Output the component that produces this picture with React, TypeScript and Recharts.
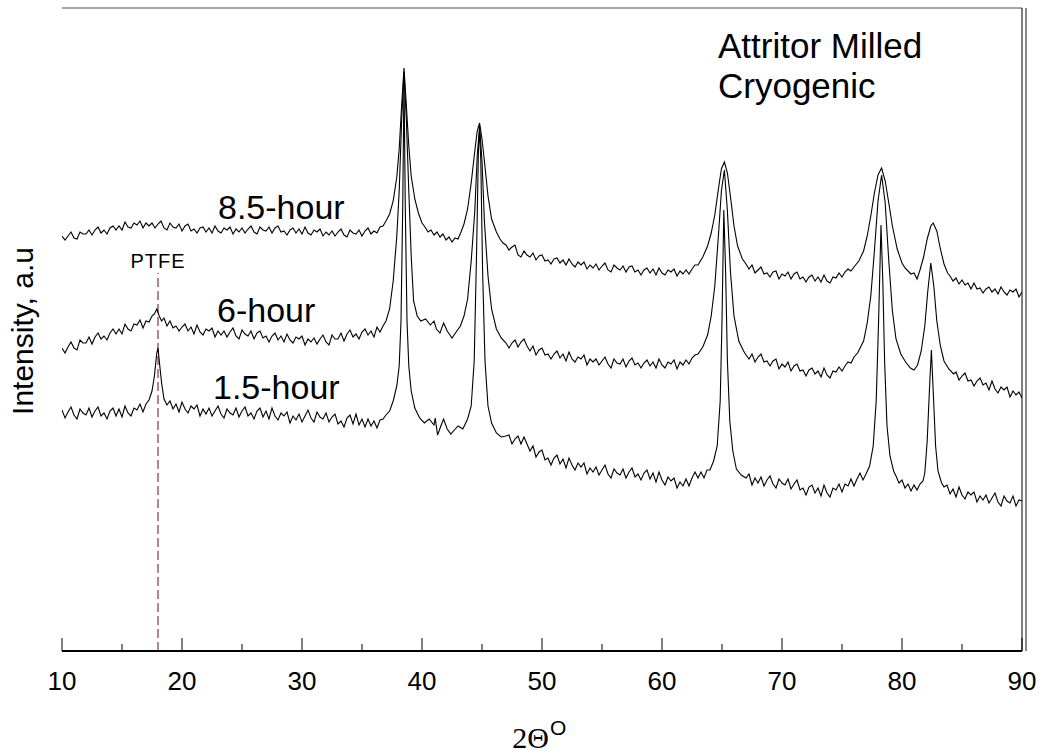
import React from "react";
import { LineChart, Line, XAxis, YAxis, ReferenceLine } from "recharts";

// XRD patterns, stacked, intensity in arbitrary units
const TICKS = [10, 15, 20, 25, 30, 35, 40, 45, 50, 55, 60, 65, 70, 75, 80, 85, 90];
const Y_MAX = 643;
const PTFE_POS = 18;
const PTFE_TOP = 378;

const HOUR_85: [number, number][] = [
  [10, 415], [10.25, 411], [10.5, 415], [10.75, 419], [11, 413], [11.25, 412], [11.5, 419], [11.75, 417],
  [12, 417], [12.25, 421], [12.5, 416], [12.75, 421], [13, 424], [13.25, 418], [13.5, 421], [13.75, 417],
  [14, 423], [14.25, 425], [14.5, 421], [14.75, 425], [15, 421], [15.25, 429], [15.5, 424], [15.75, 423],
  [16, 428], [16.25, 426], [16.5, 430], [16.75, 423], [17, 428], [17.25, 425], [17.5, 428], [17.75, 423],
  [18, 427], [18.25, 430], [18.5, 423], [18.75, 421], [19, 428], [19.25, 424], [19.5, 423], [19.75, 427],
  [20, 420], [20.25, 425], [20.5, 427], [20.75, 420], [21, 422], [21.25, 418], [21.5, 423], [21.75, 424],
  [22, 419], [22.25, 423], [22.5, 418], [22.75, 425], [23, 420], [23.25, 418], [23.5, 423], [23.75, 421],
  [24, 424], [24.25, 417], [24.5, 422], [24.75, 419], [25, 423], [25.25, 418], [25.5, 422], [25.75, 425],
  [26, 419], [26.25, 417], [26.5, 424], [26.75, 421], [27, 420], [27.25, 424], [27.5, 418], [27.75, 423],
  [28, 425], [28.25, 419], [28.5, 420], [28.75, 416], [29, 421], [29.25, 423], [29.5, 418], [29.75, 422],
  [30, 417], [30.25, 424], [30.5, 418], [30.75, 416], [31, 421], [31.25, 419], [31.5, 422], [31.75, 415],
  [32, 419], [32.25, 416], [32.5, 420], [32.75, 415], [33, 419], [33.25, 422], [33.5, 416], [33.75, 414],
  [34, 421], [34.25, 418], [34.5, 417], [34.75, 421], [35, 415], [35.25, 420], [35.5, 423], [35.75, 417],
  [36, 420], [36.25, 418], [36.5, 424], [36.75, 425], [37.0, 430], [37.3, 437],
  [37.6, 450], [37.9, 474], [38.1, 502], [38.3, 545], [38.5, 583], [38.7, 545], [38.9, 505],
  [39.1, 475], [39.4, 452], [39.7, 438], [40.0, 428], [40.25, 424], [40.5, 419], [40.75, 421],
  [41, 416], [41.25, 419], [41.5, 414], [41.75, 417], [42, 411], [42.25, 414], [42.5, 409],
  [42.75, 413], [43, 412], [43.25, 419], [43.5, 427], [43.8, 442],
  [44.1, 468], [44.4, 500], [44.6, 520], [44.8, 528], [45.0, 512], [45.2, 490], [45.5, 455],
  [45.8, 432], [46.2, 419], [46.5, 412], [46.75, 408], [47, 406], [47.25, 401], [47.5, 404], [47.75, 406],
  [48, 396], [48.25, 394], [48.5, 400], [48.75, 396], [49, 394], [49.25, 398], [49.5, 391], [49.75, 395],
  [50, 396], [50.25, 390], [50.5, 391], [50.75, 387], [51, 392], [51.25, 393], [51.5, 388], [51.75, 391],
  [52, 386], [52.25, 392], [52.5, 387], [52.75, 384], [53, 389], [53.25, 386], [53.5, 389], [53.75, 382],
  [54, 386], [54.25, 383], [54.5, 387], [54.75, 381], [55, 385], [55.25, 388], [55.5, 381], [55.75, 379],
  [56, 386], [56.25, 383], [56.5, 381], [56.75, 385], [57, 379], [57.25, 384], [57.5, 385], [57.75, 379],
  [58, 381], [58.25, 376], [58.5, 381], [58.75, 383], [59, 378], [59.25, 382], [59.5, 376], [59.75, 383],
  [60, 378], [60.25, 376], [60.5, 381], [60.75, 379], [61, 382], [61.25, 375], [61.5, 380], [61.75, 377],
  [62, 381], [62.25, 377], [62.5, 382], [62.75, 386], [63, 386], [63.4, 394], [63.8, 405], [64.1, 418],
  [64.4, 436], [64.7, 462], [64.95, 482], [65.2, 489], [65.45, 478], [65.7, 455], [66.0, 425],
  [66.3, 405], [66.7, 392], [67.0, 387], [67.25, 382], [67.5, 386], [67.75, 378], [68, 381], [68.25, 384],
  [68.5, 377], [68.75, 378], [69, 374], [69.25, 379], [69.5, 380], [69.75, 372], [70, 377], [70.25, 375],
  [70.5, 379], [70.75, 372], [71, 377], [71.25, 379], [71.5, 372], [71.75, 374], [72, 369], [72.25, 374],
  [72.5, 376], [72.75, 370], [73, 374], [73.25, 369], [73.5, 376], [73.75, 370], [74, 368], [74.25, 374],
  [74.5, 373], [74.75, 378], [75, 374], [75.25, 379], [75.5, 382], [75.75, 380], [76, 384], [76.4, 390],
  [76.8, 400], [77.1, 415], [77.4, 435], [77.7, 458], [78.0, 476], [78.3, 483], [78.6, 470],
  [78.9, 448], [79.2, 425], [79.6, 402], [80.0, 388], [80.25, 383], [80.5, 380], [80.75, 377],
  [81.0, 378], [81.25, 372], [81.5, 381], [81.8, 394], [82.1, 412], [82.4, 425], [82.6, 428],
  [82.9, 420], [83.2, 402], [83.5, 387], [83.8, 378], [84.0, 375], [84.25, 370], [84.5, 373],
  [84.75, 367], [85, 371], [85.25, 366], [85.5, 368], [85.75, 362], [86, 368], [86.25, 362], [86.5, 363],
  [86.75, 358], [87, 362], [87.25, 364], [87.5, 359], [87.75, 362], [88, 357], [88.25, 364], [88.5, 359],
  [88.75, 356], [89, 361], [89.25, 359], [89.5, 362], [89.75, 354], [90, 359],
];

const HOUR_6: [number, number][] = [
  [10, 303], [10.25, 298], [10.5, 304], [10.75, 309], [11, 303], [11.25, 301], [11.5, 311], [11.75, 308],
  [12, 308], [12.25, 314], [12.5, 307], [12.75, 314], [13, 318], [13.25, 312], [13.5, 315], [13.75, 311],
  [14, 318], [14.25, 322], [14.5, 317], [14.75, 322], [15, 317], [15.25, 327], [15.5, 322], [15.75, 320],
  [16, 327], [16.25, 326], [16.5, 331], [16.75, 323], [17, 330], [17.25, 329], [17.5, 335], [17.7, 337],
  [17.9, 342], [18.1, 335], [18.3, 330], [18.5, 333], [18.75, 325], [19, 330], [19.25, 323], [19.5, 325],
  [19.75, 320], [20, 324], [20.25, 327], [20.5, 320], [20.75, 324], [21, 317], [21.25, 326], [21.5, 319],
  [21.75, 316], [22, 322], [22.25, 320], [22.5, 323], [22.75, 314], [23, 320], [23.25, 316], [23.5, 320],
  [23.75, 314], [24, 319], [24.25, 323], [24.5, 315], [24.75, 312], [25, 321], [25.25, 317], [25.5, 315],
  [25.75, 320], [26, 312], [26.25, 318], [26.5, 320], [26.75, 313], [27, 315], [27.25, 309], [27.5, 315],
  [27.75, 318], [28, 311], [28.25, 315], [28.5, 309], [28.75, 317], [29, 311], [29.25, 308], [29.5, 314],
  [29.75, 312], [30, 315], [30.25, 306], [30.5, 312], [30.75, 309], [31, 313], [31.25, 307], [31.5, 312],
  [31.75, 316], [32, 309], [32.25, 306], [32.5, 316], [32.75, 312], [33, 312], [33.25, 318], [33.5, 310],
  [33.75, 317], [34, 321], [34.25, 314], [34.5, 317], [34.75, 312], [35, 319], [35.25, 322], [35.5, 316],
  [35.75, 320], [36, 314], [36.25, 324], [36.5, 319], [36.75, 325], [37.0, 330], [37.3, 342],
  [37.6, 370], [37.9, 415], [38.1, 460], [38.3, 530], [38.5, 579], [38.7, 530], [38.9, 460],
  [39.1, 395], [39.3, 350], [39.6, 335], [39.9, 330], [40.3, 332], [40.7, 326], [41.0, 330],
  [41.2, 322], [41.5, 318], [41.8, 328], [42.1, 320], [42.5, 313], [42.9, 320], [43.2, 325],
  [43.5, 335], [43.8, 352], [44.1, 390], [44.4, 440], [44.6, 495], [44.8, 525], [45.0, 490],
  [45.2, 430], [45.5, 375], [45.8, 342], [46.2, 322], [46.6, 313], [47.0, 308], [47.25, 303],
  [47.5, 308], [47.75, 311], [48, 304], [48.25, 309], [48.5, 312], [48.75, 305], [49, 300], [49.25, 305],
  [49.5, 296], [49.75, 301], [50, 303], [50.25, 296], [50.5, 297], [50.75, 292], [51, 297], [51.25, 300],
  [51.5, 293], [51.75, 297], [52, 290], [52.25, 299], [52.5, 292], [52.75, 289], [53, 294], [53.25, 292],
  [53.5, 296], [53.75, 286], [54, 292], [54.25, 289], [54.5, 292], [54.75, 286], [55, 290], [55.25, 294],
  [55.5, 287], [55.75, 283], [56, 292], [56.25, 288], [56.5, 287], [56.75, 292], [57, 284], [57.25, 290],
  [57.5, 293], [57.75, 286], [58, 288], [58.25, 283], [58.5, 288], [58.75, 291], [59, 285], [59.25, 289],
  [59.5, 283], [59.75, 292], [60, 286], [60.25, 283], [60.5, 289], [60.75, 287], [61, 291], [61.25, 282],
  [61.5, 289], [61.75, 286], [62, 291], [62.25, 287], [62.5, 293], [62.75, 296], [63, 297], [63.4, 304],
  [63.8, 316], [64.1, 335], [64.4, 365], [64.7, 415], [64.95, 460], [65.2, 481], [65.45, 440],
  [65.7, 380], [66.0, 335], [66.4, 310], [66.8, 300], [67.0, 296], [67.25, 292], [67.5, 297],
  [67.75, 289], [68, 294], [68.25, 297], [68.5, 289], [68.75, 290], [69, 285], [69.25, 290], [69.5, 292],
  [69.75, 282], [70, 287], [70.25, 284], [70.5, 289], [70.75, 280], [71, 285], [71.25, 287], [71.5, 280],
  [71.75, 281], [72, 275], [72.25, 281], [72.5, 283], [72.75, 277], [73, 280], [73.25, 274], [73.5, 283],
  [73.75, 276], [74, 273], [74.25, 280], [74.5, 279], [74.75, 284], [75, 280], [75.25, 285], [75.5, 289],
  [75.75, 288], [76, 294], [76.3, 298], [76.8, 310], [77.1, 328], [77.4, 355], [77.7, 400],
  [78.0, 450], [78.3, 476], [78.6, 448], [78.9, 390], [79.2, 340], [79.5, 312], [79.9, 297],
  [80.3, 289], [80.7, 283], [81.0, 281], [81.3, 286], [81.6, 300], [81.9, 325], [82.15, 360],
  [82.4, 388], [82.65, 365], [82.9, 330], [83.2, 305], [83.5, 290], [83.9, 282], [84.3, 277],
  [84.5, 279], [84.75, 271], [85, 275], [85.25, 278], [85.5, 270], [85.75, 271], [86, 265], [86.25, 270],
  [86.5, 273], [86.75, 266], [87, 268], [87.25, 261], [87.5, 270], [87.75, 262], [88, 258], [88.25, 264],
  [88.5, 261], [88.75, 264], [89, 254], [89.25, 260], [89.5, 256], [89.75, 259], [90, 253],
];

const HOUR_15: [number, number][] = [
  [10, 241], [10.25, 233], [10.5, 239], [10.75, 244], [11, 236], [11.25, 232], [11.5, 242], [11.75, 238],
  [12, 236], [12.25, 243], [12.5, 234], [12.75, 240], [13, 244], [13.25, 235], [13.5, 238], [13.75, 232],
  [14, 240], [14.25, 243], [14.5, 235], [14.75, 242], [15, 234], [15.25, 245], [15.5, 238], [15.75, 235],
  [16, 243], [16.25, 241], [16.5, 247], [16.75, 239], [17, 247], [17.25, 251], [17.5, 260], [17.7, 275],
  [17.9, 298], [18.0, 303], [18.15, 285], [18.3, 268], [18.5, 252], [18.75, 246], [19, 250], [19.25, 242],
  [19.5, 247], [19.75, 239], [20, 249], [20.25, 242], [20.5, 238], [20.75, 245], [21, 242], [21.25, 246],
  [21.5, 235], [21.75, 242], [22, 237], [22.25, 243], [22.5, 235], [22.75, 240], [23, 245], [23.25, 237],
  [23.5, 233], [23.75, 242], [24, 238], [24.25, 236], [24.5, 243], [24.75, 234], [25, 240], [25.25, 244],
  [25.5, 235], [25.75, 238], [26, 232], [26.25, 240], [26.5, 243], [26.75, 234], [27, 240], [27.25, 232],
  [27.5, 243], [27.75, 235], [28, 231], [28.25, 238], [28.5, 235], [28.75, 239], [29, 228], [29.25, 235],
  [29.5, 231], [29.75, 237], [30, 229], [30.25, 235], [30.5, 241], [30.75, 233], [31, 229], [31.25, 239],
  [31.5, 234], [31.75, 232], [32, 238], [32.25, 229], [32.5, 234], [32.75, 237], [33, 227], [33.25, 230],
  [33.5, 224], [33.75, 233], [34, 236], [34.25, 227], [34.5, 237], [34.75, 226], [35, 232], [35.25, 224],
  [35.5, 232], [35.75, 225], [36, 230], [36.25, 223], [36.5, 231], [36.75, 232], [37.0, 236],
  [37.3, 240], [37.6, 250], [37.9, 265], [38.1, 285], [38.25, 330], [38.4, 450], [38.5, 573],
  [38.6, 450], [38.75, 330], [38.9, 285], [39.1, 260], [39.4, 243], [39.8, 233], [40.2, 228],
  [40.6, 232], [41.0, 226], [41.1, 233], [41.3, 216], [41.6, 226], [41.8, 232], [42.1, 222],
  [42.4, 217], [42.7, 221], [43.0, 225], [43.4, 222], [43.8, 232], [44.1, 245], [44.35, 290],
  [44.55, 400], [44.7, 500], [44.8, 521], [44.9, 490], [45.05, 380], [45.25, 290], [45.5, 245],
  [45.8, 228], [46.2, 218], [46.6, 214], [47, 215], [47.25, 216], [47.5, 207], [47.75, 212], [48, 215],
  [48.25, 207], [48.5, 214], [48.75, 207], [49, 200], [49.25, 205], [49.5, 194], [49.75, 199], [50, 201],
  [50.25, 191], [50.5, 193], [50.75, 186], [51, 193], [51.25, 196], [51.5, 187], [51.75, 192], [52, 183],
  [52.25, 193], [52.5, 186], [52.75, 181], [53, 188], [53.25, 184], [53.5, 188], [53.75, 177], [54, 183],
  [54.25, 179], [54.5, 184], [54.75, 176], [55, 181], [55.25, 186], [55.5, 177], [55.75, 173], [56, 182],
  [56.25, 178], [56.5, 176], [56.75, 182], [57, 173], [57.25, 179], [57.5, 183], [57.75, 174], [58, 177],
  [58.25, 171], [58.5, 178], [58.75, 181], [59, 172], [59.25, 178], [59.5, 169], [59.75, 179], [60, 171],
  [60.25, 166], [60.5, 174], [60.75, 170], [61, 173], [61.25, 163], [61.5, 169], [61.75, 165], [62, 172],
  [62.25, 165], [62.5, 173], [62.75, 179], [63, 173], [63.25, 179], [63.5, 173], [63.75, 181], [64, 181],
  [64.3, 190], [64.6, 205], [64.85, 250], [65.0, 330], [65.15, 441], [65.3, 380], [65.45, 290],
  [65.65, 230], [65.9, 200], [66.2, 182], [66.6, 176], [67, 173], [67.25, 177], [67.5, 166],
  [67.75, 173], [68, 168], [68.25, 174], [68.5, 165], [68.75, 171], [69, 175], [69.25, 167], [69.5, 163],
  [69.75, 172], [70, 168], [70.25, 166], [70.5, 172], [70.75, 162], [71, 167], [71.25, 171], [71.5, 161],
  [71.75, 163], [72, 156], [72.25, 164], [72.5, 166], [72.75, 158], [73, 163], [73.25, 155], [73.5, 166],
  [73.75, 158], [74, 154], [74.25, 163], [74.5, 161], [74.75, 167], [75, 159], [75.25, 167], [75.5, 165],
  [75.75, 172], [76, 165], [76.25, 172], [76.5, 178], [76.75, 171], [77, 177], [77.3, 185],
  [77.6, 205], [77.85, 250], [78.05, 330], [78.25, 426], [78.4, 370], [78.55, 290], [78.75, 225],
  [79.0, 195], [79.3, 180], [79.5, 175], [79.75, 168], [80, 171], [80.25, 163], [80.5, 167],
  [80.75, 160], [81, 166], [81.25, 161], [81.5, 167], [81.75, 170], [81.9, 178], [82.1, 210],
  [82.3, 265], [82.45, 301], [82.6, 260], [82.8, 205], [83.0, 180], [83.3, 168], [83.5, 164],
  [83.75, 166], [84, 157], [84.25, 162], [84.5, 154], [84.75, 164], [85, 156], [85.25, 152], [85.5, 159],
  [85.75, 156], [86, 159], [86.25, 149], [86.5, 155], [86.75, 151], [87, 156], [87.25, 148], [87.5, 153],
  [87.75, 158], [88, 149], [88.25, 145], [88.5, 155], [88.75, 150], [89, 148], [89.25, 155], [89.5, 145],
  [89.75, 151], [90, 150],
];

const SERIES = [
  { name: "8.5-hour", points: HOUR_85 },
  { name: "6-hour", points: HOUR_6 },
  { name: "1.5-hour", points: HOUR_15 },
];

const SANS = "'Liberation Sans', Arial, sans-serif";
const BOTTOM = 651;

function XTick(props: any) {
  const { x, y, payload } = props;
  const major = payload.value % 10 === 0;
  return (
    <g>
      <line x1={x} x2={x} y1={y} y2={y - (major ? 13 : 7)} stroke="#000" strokeWidth={1} />
      {major && (
        <text x={x} y={y + 39} textAnchor="middle" fontSize={26} fontFamily={SANS} fill="#000">
          {payload.value}
        </text>
      )}
    </g>
  );
}

export default function App() {
  return (
    <div style={{ position: "absolute", left: 0, top: 0, width: 1042, height: 753, background: "#fff" }}>
      <LineChart width={1042} height={753} margin={{ top: 8, right: 20, bottom: 62, left: 62 }}>
        <XAxis
          type="number"
          dataKey="0"
          domain={[10, 90]}
          ticks={TICKS}
          interval={0}
          height={40}
          tickSize={0}
          tickMargin={0}
          tick={<XTick />}
          axisLine={{ stroke: "#000", strokeWidth: 1.8 }}
          allowDataOverflow
        />
        <YAxis
          type="number"
          dataKey="1"
          domain={[0, Y_MAX]}
          width={0}
          tick={false}
          tickLine={false}
          axisLine={{ stroke: "#000", strokeWidth: 1.8 }}
          allowDataOverflow
        />
        <ReferenceLine y={Y_MAX} stroke="#888" strokeWidth={1.5} />
        <ReferenceLine x={90} stroke="#000" strokeWidth={1} />
        <ReferenceLine
          segment={[{ x: PTFE_POS, y: 0 }, { x: PTFE_POS, y: PTFE_TOP }]}
          stroke="#8a4848"
          strokeWidth={1.3}
          strokeDasharray="9 4"
        />
        {SERIES.map((s) => (
          <Line
            key={s.name}
            data={s.points}
            dataKey="1"
            type="linear"
            stroke="#000"
            strokeWidth={1.1}
            dot={false}
            activeDot={false}
            isAnimationActive={false}
          />
        ))}
      </LineChart>
      <svg
        width={1042}
        height={753}
        style={{ position: "absolute", left: 0, top: 0, pointerEvents: "none" }}
      >
        <line x1={1026} x2={1026} y1={8} y2={BOTTOM} stroke="#888" strokeWidth={2} />
        <g fontFamily={SANS} fill="#000">
          <text x={718} y={58} fontSize={35}>Attritor Milled</text>
          <text x={718} y={98} fontSize={35}>Cryogenic</text>
          <text x={218} y={219} fontSize={34}>8.5-hour</text>
          <text x={217} y={322} fontSize={34}>6-hour</text>
          <text x={213} y={399} fontSize={34}>1.5-hour</text>
          <text x={158} y={268} fontSize={20} textAnchor="middle" letterSpacing={1}>PTFE</text>
          <text x={33} y={331} fontSize={30} textAnchor="middle" transform="rotate(-90 33 331)">
            Intensity, a.u
          </text>
          <text x={550} y={735} fontSize={21}>O</text>
        </g>
        <text x={549} y={748} fontSize={30} textAnchor="end" fontFamily="'Liberation Serif', 'Times New Roman', serif">
          2Θ
        </text>
      </svg>
    </div>
  );
}
